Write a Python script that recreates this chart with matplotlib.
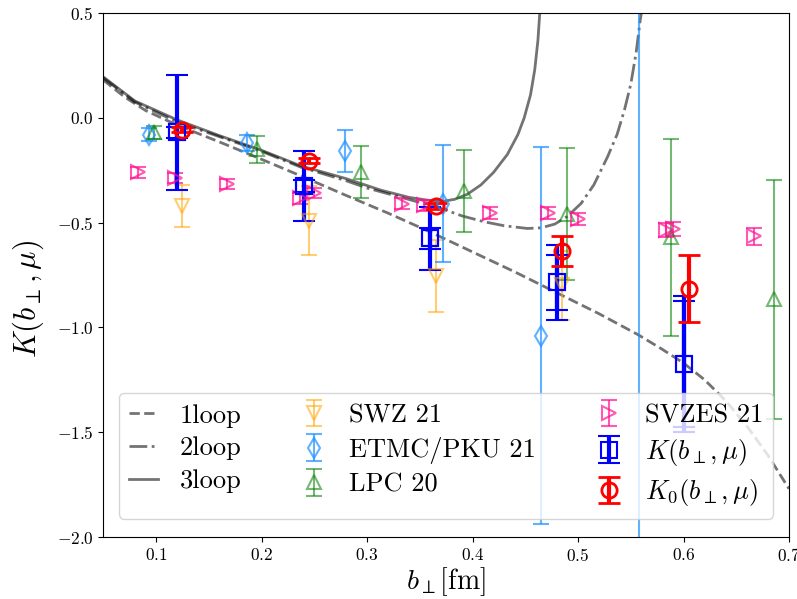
import matplotlib
matplotlib.use("Agg")
import matplotlib.pyplot as plt

plt.rcParams['font.family'] = 'serif'
plt.rcParams['font.serif'] = ['cmr10', 'DejaVu Serif']
plt.rcParams['mathtext.fontset'] = 'cm'
plt.rcParams['axes.formatter.use_mathtext'] = True
plt.rcParams['axes.unicode_minus'] = True

# ---- perturbative curves ----
loop1_x = [0.05, 0.07, 0.09, 0.12, 0.16, 0.20, 0.24, 0.28, 0.32, 0.36, 0.40, 0.44, 0.48, 0.52,
           0.557, 0.58, 0.60, 0.62, 0.64, 0.66, 0.68, 0.70]
loop1_y = [0.18, 0.10, 0.035, -0.035, -0.115, -0.198, -0.283, -0.37, -0.455, -0.545, -0.64, -0.735, -0.835, -0.935,
           -1.035, -1.105, -1.17, -1.25, -1.35, -1.47, -1.61, -1.77]

loop2_x = [0.05, 0.08, 0.12, 0.16, 0.20, 0.237, 0.28, 0.30, 0.34, 0.37, 0.39, 0.411, 0.43, 0.452, 0.465,
           0.478, 0.49, 0.503, 0.515, 0.528, 0.537, 0.544, 0.55, 0.555, 0.559, 0.562]
loop2_y = [0.19, 0.075, -0.02, -0.09, -0.16, -0.235, -0.30, -0.335, -0.39, -0.432, -0.468, -0.496, -0.515,
           -0.528, -0.525, -0.507, -0.47, -0.408, -0.32, -0.186, -0.08, 0.037, 0.16, 0.308, 0.467, 0.56]

loop3_x = [0.05, 0.08, 0.12, 0.16, 0.20, 0.237, 0.28, 0.313, 0.34, 0.36, 0.37, 0.383, 0.395, 0.408, 0.42,
           0.433, 0.443, 0.449, 0.455, 0.459, 0.462, 0.464]
loop3_y = [0.195, 0.08, -0.01, -0.085, -0.155, -0.229, -0.29, -0.345, -0.38, -0.395, -0.4, -0.389, -0.365,
           -0.32, -0.26, -0.175, -0.08, 0.0, 0.11, 0.23, 0.37, 0.52]

# ---- lattice data ----
swz_x = [0.125, 0.245, 0.365, 0.485]
swz_y = [-0.42, -0.49, -0.755, -0.80]
swz_e = [0.10, 0.165, 0.17, 0.165]

etmc_x = [0.093, 0.186, 0.279, 0.372, 0.465, 0.558]
etmc_y = [-0.08, -0.12, -0.16, -0.41, -1.04, -2.6]
etmc_e = [0.03, 0.04, 0.10, 0.28, 0.90, 3.5]

lpc_x = [0.098, 0.196, 0.294, 0.392, 0.490, 0.588, 0.686]
lpc_y = [-0.07, -0.15, -0.26, -0.35, -0.46, -0.57, -0.865]
lpc_e = [0.03, 0.065, 0.125, 0.195, 0.315, 0.47, 0.57]

svzes_x = [0.083, 0.167, 0.25, 0.333, 0.417, 0.5, 0.583, 0.667, 0.118, 0.236, 0.354, 0.472, 0.59]
svzes_y = [-0.26, -0.315, -0.36, -0.41, -0.455, -0.483, -0.535, -0.566, -0.288, -0.384, -0.418, -0.455, -0.53]
svzes_e = [0.025, 0.025, 0.025, 0.025, 0.03, 0.03, 0.035, 0.04, 0.025, 0.025, 0.025, 0.03, 0.035]

k_x = [0.12, 0.24, 0.36, 0.48, 0.60]
k_y = [-0.07, -0.325, -0.575, -0.785, -1.175]
k_e_tot = [0.275, 0.167, 0.15, 0.18, 0.325]
k_e_stat = [0.024, 0.028, 0.05, 0.13, 0.30]

k0_x = [0.125, 0.245, 0.365, 0.485, 0.605]
k0_y = [-0.057, -0.205, -0.42, -0.635, -0.815]
k0_e = [0.012, 0.012, 0.015, 0.07, 0.16]

fig = plt.figure(figsize=(7.97, 5.99), dpi=100)
ax = fig.add_axes([103.3 / 797, 62 / 599, (789 - 103.3) / 797, (537 - 13) / 599])

ax.plot(loop1_x, loop1_y, ls='--', color='k', alpha=0.55, lw=2, label='1loop')
ax.plot(loop2_x, loop2_y, ls='-.', color='k', alpha=0.55, lw=2, label='2loop')
ax.plot(loop3_x, loop3_y, ls='-', color='k', alpha=0.55, lw=2, label='3loop')

common = dict(ls='none', mfc='none', ms=10, mew=1.5, capsize=5.5, elinewidth=1.5, capthick=1.5)
ax.errorbar(swz_x, swz_y, yerr=swz_e, marker='v', color='orange', alpha=0.55, label='SWZ 21', **common)
ax.errorbar(etmc_x, etmc_y, yerr=etmc_e, marker='d', color='dodgerblue', alpha=0.7, label='ETMC/PKU 21', **common)
ax.errorbar(lpc_x, lpc_y, yerr=lpc_e, marker='^', color='green', alpha=0.55, label='LPC 20', **common)
ax.errorbar(svzes_x, svzes_y, yerr=svzes_e, marker='>', color='deeppink', alpha=0.7, label='SVZES 21', **common)

ax.errorbar(k_x, k_y, yerr=k_e_stat, ls='none', marker='s', color='blue', mfc='none', ms=11, mew=1.5,
            capsize=8, elinewidth=3, capthick=2)
ax.errorbar(k_x, k_y, yerr=k_e_tot, ls='none', marker='s', color='blue', mfc='none', ms=11, mew=1.5,
            capsize=8, elinewidth=3, capthick=2, label=r'$K(b_\perp,\mu)$')
ax.errorbar(k0_x, k0_y, yerr=k0_e, ls='none', marker='o', color='red', mfc='none', ms=11, mew=2,
            capsize=8, elinewidth=3, capthick=2, label=r'$K_0(b_\perp,\mu)$')

ax.set_xlim(0.05, 0.7)
ax.set_ylim(-2.0, 0.5)
ax.set_xticks([0.1, 0.2, 0.3, 0.4, 0.5, 0.6, 0.7])
ax.set_yticks([0.5, 0.0, -0.5, -1.0, -1.5, -2.0])
ax.tick_params(labelsize=12.5)
ax.set_xlabel(r'$b_\perp[\mathrm{fm}]$', fontsize=20, labelpad=1)
ax.set_ylabel(r'$K(b_\perp,\mu)$', fontsize=22)
ax.yaxis.set_label_coords(-0.083, 0.455)

ax.legend(ncol=3, loc='lower center', fontsize=19, handlelength=1.1, columnspacing=2.2,
          labelspacing=0.35, borderaxespad=0.7, handletextpad=0.8)

fig.savefig('out.png', dpi=100)
